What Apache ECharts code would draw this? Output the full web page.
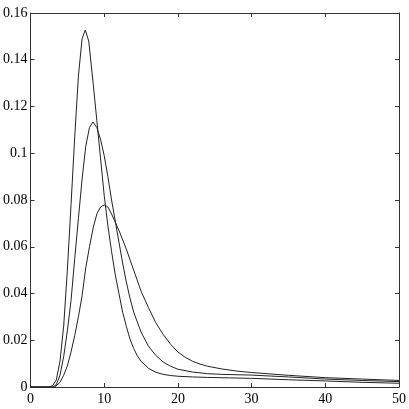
<!DOCTYPE html>
<html>
<head>
<meta charset="utf-8">
<script src="https://cdn.jsdelivr.net/npm/echarts@6/dist/echarts.min.js"></script>
<style>html,body{margin:0;padding:0;background:#fff;}#c{width:409px;height:409px;}</style>
</head>
<body>
<div id="c"></div>
<script>
// Curve A (tallest)
const xA = [0, 2.5, 3, 3.5, 4, 4.5, 5, 5.5, 6, 6.5, 7, 7.43, 7.9, 8.5, 9, 9.5, 10, 10.5, 11, 11.5, 12, 12.5, 13, 13.5, 14, 14.5, 15, 16, 17, 18, 19, 20, 22, 24, 27, 30, 35, 40, 45, 50];
const yA = [0, 0, 0.0006, 0.003, 0.011, 0.026, 0.050, 0.078, 0.107, 0.133, 0.149, 0.1527, 0.148, 0.130, 0.114, 0.098, 0.082, 0.069, 0.058, 0.048, 0.040, 0.032, 0.026, 0.0205, 0.0165, 0.0133, 0.0110, 0.0080, 0.0063, 0.0054, 0.0049, 0.0046, 0.0043, 0.0041, 0.0039, 0.0037, 0.0031, 0.0026, 0.0020, 0.0016];
// Curve B (middle)
const xB = [0, 3, 3.5, 4, 4.5, 5, 5.5, 6, 6.5, 7, 7.5, 8, 8.47, 9, 9.5, 10, 10.5, 11, 11.5, 12, 12.5, 13, 13.5, 14, 15, 16, 17, 18, 19, 20, 22, 24, 26, 30, 35, 40, 45, 50];
const yB = [0, 0, 0.001, 0.005, 0.013, 0.024, 0.037, 0.055, 0.072, 0.089, 0.103, 0.111, 0.1134, 0.111, 0.106, 0.099, 0.090, 0.080, 0.071, 0.062, 0.053, 0.045, 0.038, 0.032, 0.0235, 0.0175, 0.0135, 0.0107, 0.0089, 0.0076, 0.0064, 0.0057, 0.0054, 0.0051, 0.0043, 0.0034, 0.0028, 0.0023];
// Curve C (lowest peak)
const xC = [0, 3.3, 3.5, 4, 4.5, 5, 5.5, 6, 6.5, 7, 7.5, 8, 8.5, 9, 9.5, 10.04, 10.5, 11, 12, 13, 14, 15, 16, 17, 18, 19, 20, 21, 22, 23, 24, 26, 28, 30, 35, 40, 45, 50];
const yC = [0, 0, 0.0003, 0.002, 0.005, 0.009, 0.015, 0.022, 0.030, 0.039, 0.051, 0.060, 0.068, 0.074, 0.077, 0.0779, 0.077, 0.074, 0.067, 0.059, 0.050, 0.041, 0.034, 0.0275, 0.0225, 0.0183, 0.0150, 0.0127, 0.0110, 0.0098, 0.0089, 0.0077, 0.0068, 0.0062, 0.0050, 0.0040, 0.0034, 0.0028];

const xTicks = [0, 10, 20, 30, 40, 50];
const yTicks = [0, 0.02, 0.04, 0.06, 0.08, 0.1, 0.12, 0.14, 0.16];

const pairs = (xs, ys) => xs.map((x, i) => [x, ys[i]]);
const FONT = 'Liberation Serif';
const axisLine = {show: true, onZero: false, lineStyle: {color: '#333', width: 1}};
const tick = {show: true, inside: true, length: 4, lineStyle: {color: '#333'}};

const chart = echarts.init(document.getElementById('c'), null, {renderer: 'canvas'});
chart.setOption({
  animation: false,
  backgroundColor: '#fff',
  textStyle: {fontFamily: FONT},
  grid: {left: 27, right: 10, top: 13, bottom: 22, containLabel: false},
  xAxis: [
    {type: 'value', min: xTicks[0], max: xTicks[xTicks.length-1], interval: 10, position: 'bottom',
     axisLine, axisTick: tick, splitLine: {show: false},
     axisLabel: {margin: 5, fontFamily: FONT, fontSize: 14, color: '#000', formatter: v => String(v)}},
    {type: 'value', min: xTicks[0], max: xTicks[xTicks.length-1], interval: 10, position: 'top',
     axisLine, axisTick: tick, splitLine: {show: false}, axisLabel: {show: false}}
  ],
  yAxis: [
    {type: 'value', min: yTicks[0], max: yTicks[yTicks.length-1], interval: 0.02, position: 'left',
     axisLine, axisTick: tick, splitLine: {show: false},
     axisLabel: {margin: 3, fontFamily: FONT, fontSize: 14, color: '#000', formatter: v => v === 0 ? '0' : String(+v.toFixed(2))}},
    {type: 'value', min: yTicks[0], max: yTicks[yTicks.length-1], interval: 0.02, position: 'right',
     axisLine, axisTick: tick, splitLine: {show: false}, axisLabel: {show: false}}
  ],
  series: [
    {type: 'line', data: pairs(xA, yA), showSymbol: false, lineStyle: {color: '#222', width: 1}},
    {type: 'line', data: pairs(xB, yB), showSymbol: false, lineStyle: {color: '#222', width: 1}},
    {type: 'line', data: pairs(xC, yC), showSymbol: false, lineStyle: {color: '#222', width: 1}}
  ]
});
</script>
</body>
</html>
